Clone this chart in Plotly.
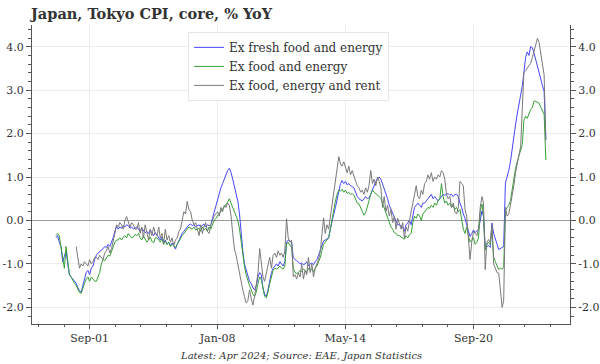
import pandas as pd
import plotly.graph_objects as go

# ---------------- data (monthly, % YoY) ----------------
series_names = ["Ex fresh food and energy", "Ex food and energy", "Ex food, energy and rent"]

ex_fresh_food_energy = [
    -0.40, -0.35, -0.50, -0.60, -0.95, -0.80, -0.70, -1.00, -1.25, -1.30, -1.35, -1.40,  # 2000
    -1.45, -1.55, -1.62, -1.65, -1.50, -1.30, -1.20, -1.15, -1.25, -1.10, -1.05, -0.90,  # 2001
    -0.80, -0.75, -0.72, -0.70, -0.65, -0.60, -0.62, -0.55, -0.60, -0.50, -0.40, -0.25,  # 2002
    -0.14, -0.20, -0.15, -0.18, -0.12, -0.15, -0.10, -0.12, -0.18, -0.15, -0.20, -0.18,  # 2003
    -0.15, -0.20, -0.25, -0.18, -0.22, -0.28, -0.25, -0.30, -0.22, -0.30, -0.35, -0.28,  # 2004
    -0.35, -0.40, -0.45, -0.38, -0.50, -0.45, -0.55, -0.50, -0.58, -0.52, -0.60, -0.66,  # 2005
    -0.55, -0.45, -0.40, -0.30, -0.25, -0.20, -0.15, -0.10, -0.08, -0.12, -0.10, -0.15,  # 2006
    -0.12, -0.10, -0.15, -0.12, -0.08, -0.15, -0.10, -0.12, -0.10, 0.05, 0.20, 0.35,     # 2007
    0.50, 0.60, 0.75, 0.85, 0.95, 1.05, 1.15, 1.20, 1.10, 0.95, 0.80, 0.60,              # 2008
    0.45, 0.15, -0.30, -0.70, -1.00, -1.15, -1.30, -1.40, -1.45, -1.55, -1.60, -1.50,    # 2009
    -1.30, -1.20, -1.25, -1.55, -1.70, -1.75, -1.60, -1.40, -1.20, -1.10, -1.05, -1.00,  # 2010
    -1.05, -0.95, -1.00, -1.05, -0.95, -0.50, -0.45, -0.48, -0.50, -0.85, -0.90, -0.92,  # 2011
    -0.95, -1.00, -0.98, -1.02, -1.00, -0.95, -1.05, -1.00, -0.98, -1.02, -0.95, -0.90,  # 2012
    -0.80, -0.70, -0.60, -0.47, -0.45, -0.42, -0.40, -0.20, 0.00, 0.15, 0.30, 0.48,      # 2013
    0.70, 0.85, 0.92, 0.85, 0.90, 0.82, 0.85, 0.80, 0.78, 0.75, 0.65, 0.55,              # 2014
    0.50, 0.48, 0.45, 0.50, 0.55, 0.50, 0.52, 0.60, 0.70, 0.80, 0.90, 0.95,              # 2015
    1.00, 0.95, 0.85, 0.70, 0.60, 0.50, 0.35, 0.25, 0.15, 0.05, -0.05, -0.10,            # 2016
    -0.10, -0.12, -0.15, -0.25, -0.10, -0.05, 0.00, -0.10, 0.10, 0.30, 0.35, 0.40,       # 2017
    0.35, 0.30, 0.40, 0.40, 0.45, 0.50, 0.55, 0.60, 0.50, 0.55, 0.50, 0.45,              # 2018
    0.50, 0.55, 0.60, 0.58, 0.60, 0.62, 0.58, 0.60, 0.55, 0.60, 0.60, 0.55,              # 2019
    0.40, 0.30, 0.15, 0.05, -0.10, -0.25, -0.37, -0.30, -0.22, -0.28, -0.25, -0.20,      # 2020
    0.00, 0.22, 0.10, -0.60, -0.60, -0.58, -0.62, -0.06, -0.30, -0.45, -0.55, -0.67,     # 2021
    -0.65, -0.62, -0.60, 0.86, 1.00, 1.15, 1.35, 1.60, 1.90, 2.20, 2.45, 2.65,           # 2022
    2.85, 3.10, 3.40, 3.75, 3.88, 3.80, 4.00, 3.98, 3.85, 3.70, 3.55, 3.35,              # 2023
    3.25, 3.10, 2.97, 1.85,                                                              # 2024
]

ex_food_energy = [
    -0.35, -0.30, -0.35, -0.60, -0.90, -1.10, -0.60, -0.95, -1.25, -1.30, -1.40, -1.45,  # 2000
    -1.50, -1.60, -1.66, -1.68, -1.55, -1.45, -1.35, -1.30, -1.40, -1.30, -1.35, -1.40,  # 2001
    -1.40, -1.30, -1.20, -1.00, -0.90, -0.93, -0.85, -0.80, -0.82, -0.70, -0.60, -0.50,  # 2002
    -0.45, -0.45, -0.40, -0.45, -0.38, -0.35, -0.40, -0.30, -0.35, -0.40, -0.38, -0.32,  # 2003
    -0.35, -0.30, -0.40, -0.45, -0.35, -0.42, -0.50, -0.45, -0.38, -0.48, -0.52, -0.40,  # 2004
    -0.40, -0.45, -0.50, -0.42, -0.55, -0.48, -0.55, -0.50, -0.60, -0.55, -0.58, -0.62,  # 2005
    -0.55, -0.48, -0.40, -0.35, -0.30, -0.25, -0.20, -0.15, -0.18, -0.20, -0.15, -0.22,  # 2006
    -0.20, -0.18, -0.25, -0.15, -0.22, -0.18, -0.25, -0.15, -0.20, -0.10, 0.00, 0.05,    # 2007
    0.10, 0.15, 0.20, 0.25, 0.30, 0.35, 0.42, 0.50, 0.40, 0.30, 0.20, 0.10,              # 2008
    0.00, -0.20, -0.50, -0.80, -1.05, -1.25, -1.40, -1.50, -1.60, -1.70, -1.75, -1.65,   # 2009
    -1.45, -1.30, -1.35, -1.60, -1.75, -1.78, -1.65, -1.45, -1.30, -1.15, -1.10, -1.12,  # 2010
    -1.10, -1.05, -1.10, -1.12, -1.05, -0.55, -0.50, -0.58, -0.60, -1.10, -1.20, -1.22,  # 2011
    -1.20, -1.15, -1.18, -1.12, -1.15, -1.20, -1.10, -1.15, -1.12, -1.18, -1.10, -1.05,  # 2012
    -0.95, -0.85, -0.70, -0.55, -0.50, -0.45, -0.40, -0.20, 0.05, 0.25, 0.45, 0.60,      # 2013
    0.70, 0.68, 0.72, 0.65, 0.70, 0.62, 0.65, 0.60, 0.62, 0.58, 0.50, 0.40,              # 2014
    0.38, 0.30, 0.20, 0.12, 0.18, 0.30, 0.45, 0.60, 0.70, 0.65, 0.62, 0.58,              # 2015
    0.55, 0.50, 0.40, 0.25, 0.15, 0.05, -0.05, -0.15, -0.20, -0.28, -0.30, -0.35,        # 2016
    -0.35, -0.38, -0.40, -0.43, -0.35, -0.40, -0.33, -0.30, -0.05, 0.10, 0.05, 0.15,     # 2017
    0.10, 0.00, 0.15, 0.20, 0.25, 0.30, 0.28, 0.35, 0.30, 0.40, 0.35, 0.45,              # 2018
    0.50, 0.85, 0.55, 0.40, 0.45, 0.35, 0.40, 0.30, 0.35, 0.25, 0.30, 0.20,              # 2019
    0.25, 0.00, -0.20, -0.30, -0.15, -0.35, -0.50, -0.45, -0.40, -0.55, -0.50, -0.40,    # 2020
    0.20, 0.38, 0.10, -0.68, -0.55, -0.50, -0.55, -0.20, -0.85, -0.95, -1.05, -1.13,     # 2021
    -1.10, -1.12, -1.08, 0.22, 0.30, 0.35, 0.45, 0.70, 1.00, 1.20, 1.35, 1.50,           # 2022
    1.60, 1.75, 2.30, 2.40, 2.35, 2.45, 2.55, 2.60, 2.75, 2.74, 2.72, 2.70,              # 2023
    2.60, 2.50, 2.45, 1.39,                                                              # 2024
]

ex_food_energy_rent = [
    -0.60, -0.85, -1.10, -1.00, -1.05, -0.95, -1.00, -1.05, -0.90, -1.00, -0.95, -0.85,  # 2001
    -0.85, -0.90, -0.80, -0.85, -0.90, -0.75, -0.70, -0.60, -0.75, -0.65, -0.50, -0.30,  # 2002
    -0.10, -0.15, -0.05, -0.10, -0.20, 0.00, 0.09, -0.05, -0.15, -0.05, -0.10, -0.20,    # 2003
    -0.20, -0.05, -0.30, -0.15, -0.40, -0.10, -0.25, -0.45, -0.20, -0.35, -0.15, -0.30,  # 2004
    -0.35, -0.15, -0.40, -0.30, -0.55, -0.20, -0.45, -0.35, -0.50, -0.40, -0.58, -0.45,  # 2005
    -0.40, -0.25, -0.20, 0.00, 0.20, 0.15, 0.44, 0.25, 0.20, 0.00, -0.10, -0.05,         # 2006
    -0.20, -0.35, -0.10, -0.30, -0.15, -0.05, -0.25, -0.30, -0.10, 0.00, 0.10, 0.15,     # 2007
    0.20, 0.10, 0.30, 0.20, 0.35, 0.30, 0.40, 0.35, 0.10, -0.30, -0.66, -0.80,           # 2008
    -1.00, -1.20, -1.45, -1.60, -1.75, -1.90, -1.85, -1.60, -1.80, -1.95, -1.75, -1.50,  # 2009
    -1.20, -0.65, -0.95, -1.30, -1.40, -1.20, -1.00, -0.85, -1.10, -0.80, -0.75, -0.85,  # 2010
    -0.70, -0.80, -0.75, -0.85, -0.70, 0.04, -0.40, -0.50, -0.45, -1.30, -1.25, -1.35,   # 2011
    -1.20, -1.30, -1.00, -1.35, -1.15, -1.25, -0.85, -1.20, -1.00, -1.30, -1.10, -1.00,  # 2012
    -0.90, -0.70, -0.40, 0.06, -0.30, -0.10, -0.20, 0.10, 0.40, 0.70, 1.00, 1.30,        # 2013
    1.47, 1.30, 1.25, 1.35, 1.20, 1.10, 1.25, 1.05, 1.15, 1.00, 0.90, 0.80,              # 2014
    0.75, 0.65, 0.70, 0.60, 0.75, 0.65, 0.80, 1.15, 0.85, 0.95, 0.80, 1.00,              # 2015
    0.90, 0.75, 0.30, 0.55, 0.20, 0.35, 0.10, 0.25, -0.05, 0.10, -0.20, 0.05,            # 2016
    -0.10, -0.20, -0.05, -0.40, -0.15, -0.25, 0.00, 0.20, 0.45, 0.60, 0.80, 0.55,        # 2017
    0.50, 0.70, 0.60, 0.85, 0.90, 1.05, 0.95, 1.10, 0.90, 1.00, 0.95, 1.05,              # 2018
    1.00, 1.15, 1.10, 0.95, 0.60, 0.50, 0.55, 0.30, 0.40, 0.20, 0.15, 0.30,              # 2019
    0.90, 0.85, 0.80, 0.25, 0.10, -0.40, -0.90, -0.50, -0.25, -0.30, -0.35, -0.20,       # 2020
    0.30, 0.55, 0.40, -1.13, -0.50, -0.44, -0.50, -0.10, -1.00, -1.10, -1.20, -1.21,     # 2021
    -1.60, -2.00, -1.85, 0.30, 0.10, 0.15, 0.35, 0.55, 0.80, 1.10, 1.35, 1.50,           # 2022
    1.70, 2.80, 3.40, 3.45, 3.50, 3.55, 3.62, 3.75, 3.90, 4.05, 4.19, 4.10,              # 2023
    3.85, 3.55, 3.35, 1.86,                                                              # 2024
]

dates_main = pd.date_range("2000-01-01", periods=len(ex_fresh_food_energy), freq="MS")
dates_rent = pd.date_range("2001-01-01", periods=len(ex_food_energy_rent), freq="MS")

x_tick_dates = ["2001-09-01", "2008-01-01", "2014-05-01", "2020-09-01"]
x_tick_labels = ["Sep-01", "Jan-08", "May-14", "Sep-20"]
y_tick_values = [-2, -1, 0, 1, 2, 3, 4]
y_tick_labels = [f"{v:.1f}" for v in y_tick_values]

# ---------------- figure ----------------
colors = ["#4646ff", "#38a038", "#7a7a7a"]
fig = go.Figure()
fig.add_trace(go.Scatter(x=dates_main, y=ex_fresh_food_energy, mode="lines",
                         name=series_names[0], line=dict(color=colors[0], width=1)))
fig.add_trace(go.Scatter(x=dates_main, y=ex_food_energy, mode="lines",
                         name=series_names[1], line=dict(color=colors[1], width=1)))
fig.add_trace(go.Scatter(x=dates_rent, y=ex_food_energy_rent, mode="lines",
                         name=series_names[2], line=dict(color=colors[2], width=1)))
# empty trace so that the mirrored right-hand axis is drawn
fig.add_trace(go.Scatter(x=dates_main[:1], y=[None], yaxis="y2", mode="lines",
                         showlegend=False, hoverinfo="skip"))

# minor x ticks: 4 equal subdivisions between major ticks
t0 = pd.Timestamp(x_tick_dates[0])
step = (pd.Timestamp(x_tick_dates[-1]) - t0) / 15
minor_x = [(t0 + k * step).strftime("%Y-%m-%d") for k in range(-2, 19) if k % 5 != 0]

axis_col = "#555555"
grid_col = "#ececec"
y_range = [-2.384, 4.5]

fig.update_layout(
    width=600, height=364,
    margin=dict(l=32, r=30, t=25, b=40),
    paper_bgcolor="white", plot_bgcolor="white",
    font=dict(family="DejaVu Serif", size=11, color="#333333"),
    title=dict(text="<b>Japan, Tokyo CPI, core, % YoY</b>", xref="container", yref="container",
               x=31 / 600, xanchor="left", y=1 - 14 / 364, yanchor="middle",
               font=dict(family="DejaVu Serif", size=14.5, color="#333333")),
    showlegend=True,
    legend=dict(x=0.29, y=0.977, xanchor="left", yanchor="top",
                bgcolor="white", bordercolor="#e6e6e6", borderwidth=1,
                font=dict(family="DejaVu Serif", size=12, color="#333333"),
                itemwidth=30, tracegroupgap=0),
    xaxis=dict(type="date", range=["1998-10-25", "2025-06-12"], automargin=False,
               tickmode="array", tickvals=x_tick_dates, ticktext=x_tick_labels,
               showgrid=True, gridcolor=grid_col, gridwidth=1,
               showline=True, linecolor=axis_col, linewidth=1,
               ticks="outside", ticklen=4, tickcolor=axis_col,
               minor=dict(tickmode="array", tickvals=minor_x, ticks="outside",
                          ticklen=2, tickcolor=axis_col, showgrid=False),
               zeroline=False, fixedrange=True),
    yaxis=dict(range=y_range, automargin=False,
               tickmode="array", tickvals=y_tick_values, ticktext=y_tick_labels,
               showgrid=True, gridcolor=grid_col, gridwidth=1,
               zeroline=True, zerolinecolor="#9a9a9a", zerolinewidth=1,
               showline=True, linecolor=axis_col, linewidth=1,
               ticks="outside", ticklen=5, tickcolor=axis_col,
               minor=dict(dtick=0.2, tick0=0, ticks="outside", ticklen=3,
                          tickcolor=axis_col, showgrid=False)),
    yaxis2=dict(range=y_range, overlaying="y", side="right", automargin=False,
                tickmode="array", tickvals=y_tick_values, ticktext=y_tick_labels,
                showgrid=False, zeroline=False,
                showline=True, linecolor=axis_col, linewidth=1,
                ticks="outside", ticklen=5, tickcolor=axis_col,
                minor=dict(dtick=0.2, tick0=0, ticks="outside", ticklen=3,
                           tickcolor=axis_col, showgrid=False)),
    annotations=[dict(text="<i>Latest: Apr 2024; Source: EAE, Japan Statistics</i>",
                      xref="paper", yref="paper", x=0.5, y=-0.104,
                      xanchor="center", yanchor="middle", showarrow=False,
                      font=dict(family="DejaVu Serif", size=10, color="#333333"))],
)

fig.write_html("out.html", config={"displayModeBar": False},
               post_script="document.body.style.margin='0';")
